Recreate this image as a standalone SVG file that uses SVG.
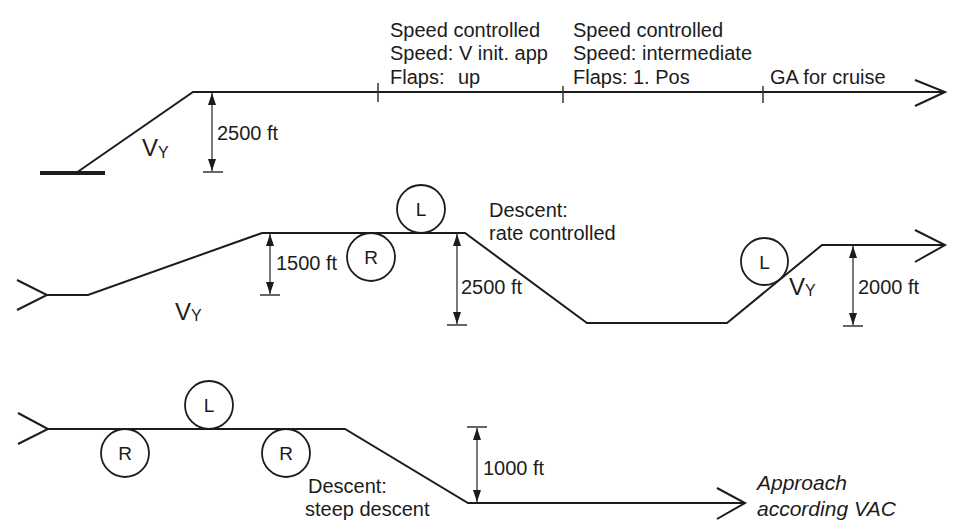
<svg xmlns="http://www.w3.org/2000/svg" width="955" height="525" viewBox="0 0 955 525">
<style>
.bg{fill:#ffffff}
.path{fill:none;stroke:#1c1c1c;stroke-width:2;stroke-linejoin:miter;stroke-linecap:butt}
.dim{fill:none;stroke:#333;stroke-width:1.3}
.tick{fill:none;stroke:#333;stroke-width:1.5}
.circ{fill:none;stroke:#1c1c1c;stroke-width:1.8}
.t{font-family:"Liberation Sans",Arial,sans-serif;font-size:20px;fill:#1c1c1c}
.ti{font-family:"Liberation Sans",Arial,sans-serif;font-size:21px;font-style:italic;fill:#1c1c1c}
.cl{font-family:"Liberation Sans",Arial,sans-serif;font-size:19px;fill:#1c1c1c;text-anchor:middle}
.vy{font-family:"Liberation Sans",Arial,sans-serif;font-size:24px;fill:#1c1c1c}
</style>
<defs>
<marker id="dimArrow" viewBox="0 0 12 8" refX="12" refY="4" markerWidth="12" markerHeight="8" markerUnits="userSpaceOnUse" orient="auto-start-reverse">
<path d="M0,0 L12,4 L0,8 z" fill="#1c1c1c"/>
</marker>
</defs>
<rect class="bg" x="0" y="0" width="955" height="525"/>

<g id="connectors">
<!-- top profile -->
<line x1="40" y1="173" x2="105" y2="173" stroke="#1c1c1c" stroke-width="4"/>
<polyline class="path" points="76,173 193,92 945,92"/>
<polyline class="path" points="915,80 945,92 915,106"/>
<line class="tick" x1="378" y1="83" x2="378" y2="102"/>
<line class="tick" x1="563" y1="86" x2="563" y2="103"/>
<line class="tick" x1="763" y1="86" x2="763" y2="103"/>
<!-- middle profile -->
<polyline class="path" points="17,280 47,295 17,310"/>
<polyline class="path" points="47,295 88,295 262,233 465,233 587,323 727,323 822,245 945,245"/>
<polyline class="path" points="915,230 945,245 915,262"/>
<!-- bottom profile -->
<polyline class="path" points="18,413 48,429 18,444"/>
<polyline class="path" points="48,429 345,429 468,503 745,503"/>
<polyline class="path" points="717,488 745,503 717,519"/>
</g>

<g id="dimensions">
<g id="dim-2500-top">
<line class="dim" x1="212" y1="93" x2="212" y2="171" marker-start="url(#dimArrow)" marker-end="url(#dimArrow)"/>
<line class="tick" x1="203" y1="172" x2="223" y2="172"/>
<text class="t" x="217" y="140">2500 ft</text>
</g>
<g id="dim-1500">
<line class="dim" x1="270" y1="234" x2="270" y2="294" marker-start="url(#dimArrow)" marker-end="url(#dimArrow)"/>
<line class="tick" x1="260" y1="295" x2="280" y2="295"/>
<text class="t" x="276" y="270">1500 ft</text>
</g>
<g id="dim-2500-mid">
<line class="dim" x1="457" y1="234" x2="457" y2="324" marker-start="url(#dimArrow)" marker-end="url(#dimArrow)"/>
<line class="tick" x1="447" y1="325" x2="467" y2="325"/>
<text class="t" x="461" y="294">2500 ft</text>
</g>
<g id="dim-2000">
<line class="dim" x1="853" y1="246" x2="853" y2="325" marker-start="url(#dimArrow)" marker-end="url(#dimArrow)"/>
<line class="tick" x1="843" y1="326" x2="863" y2="326"/>
<text class="t" x="858" y="294">2000 ft</text>
</g>
<g id="dim-1000">
<line class="dim" x1="477" y1="428" x2="477" y2="502" marker-start="url(#dimArrow)" marker-end="url(#dimArrow)"/>
<line class="tick" x1="467" y1="427" x2="487" y2="427"/>
<text class="t" x="483" y="475">1000 ft</text>
</g>
</g>

<g id="node-L1"><circle class="circ" cx="421" cy="209" r="24"/><text class="cl" x="421" y="216">L</text></g>
<g id="node-R1"><circle class="circ" cx="371" cy="257" r="24"/><text class="cl" x="371" y="264">R</text></g>
<g id="node-L2"><circle class="circ" cx="764.5" cy="261.5" r="23.5"/><text class="cl" x="764.5" y="268.5">L</text></g>
<g id="node-L3"><circle class="circ" cx="209" cy="405" r="24"/><text class="cl" x="209" y="412">L</text></g>
<g id="node-R2"><circle class="circ" cx="125" cy="453" r="24"/><text class="cl" x="125" y="460">R</text></g>
<g id="node-R3"><circle class="circ" cx="286" cy="453" r="24"/><text class="cl" x="286" y="460">R</text></g>

<g id="labels">
<text class="t" x="390" y="37">Speed controlled</text>
<text class="t" x="390" y="60">Speed: V init. app</text>
<text class="t" x="390" y="84">Flaps:<tspan x="458">up</tspan></text>
<text class="t" x="573" y="37">Speed controlled</text>
<text class="t" x="573" y="60">Speed: intermediate</text>
<text class="t" x="573" y="84">Flaps:<tspan x="633">1. Pos</tspan></text>
<text class="t" x="770" y="84">GA for cruise</text>

<text class="vy" x="142" y="156">V<tspan font-size="16" dy="2">Y</tspan></text>
<text class="vy" x="175" y="320">V<tspan font-size="16" dy="1">Y</tspan></text>
<text class="vy" x="789" y="295">V<tspan font-size="16" dy="1">Y</tspan></text>

<text class="t" x="489" y="217">Descent:</text>
<text class="t" x="489" y="240">rate controlled</text>
<text class="t" x="308" y="493">Descent:</text>
<text class="t" x="305" y="516">steep descent</text>
<text class="ti" x="757" y="490">Approach</text>
<text class="ti" x="757" y="516">according VAC</text>
</g>
</svg>
